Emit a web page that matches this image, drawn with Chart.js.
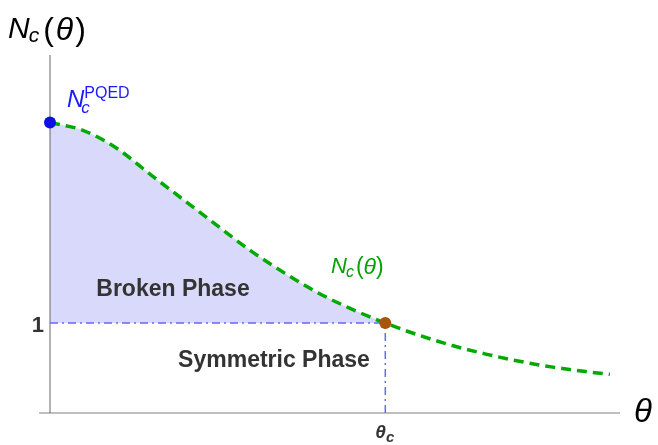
<!DOCTYPE html>
<html>
<head>
<meta charset="utf-8">
<script src="https://cdn.jsdelivr.net/npm/chart.js@4/dist/chart.umd.min.js"></script>
<style>
  html, body { margin: 0; padding: 0; background: #fff; }
  canvas { display: block; }
</style>
</head>
<body>
<canvas id="chart" width="658" height="445"></canvas>
<script>
  // curve N_c(theta) (theta in units of theta_c)
  const thetaVals = [0, 0.1, 0.2, 0.3, 0.4, 0.5, 0.6, 0.7, 0.8, 0.9, 1.0, 1.1, 1.2, 1.3, 1.4, 1.5, 1.6, 1.67];
  const ncVals = [3.23, 3.14, 2.94, 2.65, 2.365, 2.08, 1.80, 1.555, 1.335, 1.155, 1.0, 0.865, 0.75, 0.655, 0.575, 0.51, 0.46, 0.43];

  const thetaC = 1;
  const ncAtThetaC = 1;
  const ncPQED = 3.23;

  const yTickValues = [1];
  const yTickLabels = ['1'];

  const X_MAX = 1.70;
  const Y_MAX = 3.98;

  const FONT = '"Liberation Sans", Arial, Helvetica, sans-serif';

  const curvePoints = thetaVals.map((t, i) => ({ x: t, y: ncVals[i] }));
  const brokenPoints = curvePoints.filter(p => p.x <= thetaC);

  // draw a run of text pieces one after another, returns end x
  function drawRich(ctx, x, parts) {
    let cx = x;
    parts.forEach(p => {
      ctx.font = p.font;
      cx += p.gap || 0;
      ctx.fillText(p.text, cx, p.y);
      cx += ctx.measureText(p.text).width;
    });
    return cx;
  }

  const axesPlugin = {
    id: 'axes',
    afterDatasetDraw(chart, args) {
      if (args.index !== 0) return;
      const ctx = chart.ctx;
      const xs = chart.scales.x, ys = chart.scales.y;
      const x0 = xs.getPixelForValue(0);
      const y0 = ys.getPixelForValue(0);
      ctx.save();
      // x axis
      ctx.strokeStyle = '#aaaaaa';
      ctx.lineWidth = 1.5;
      ctx.beginPath();
      ctx.moveTo(x0 - 11, y0);
      ctx.lineTo(xs.getPixelForValue(X_MAX), y0);
      ctx.stroke();
      // y axis
      ctx.strokeStyle = '#666666';
      ctx.lineWidth = 1;
      ctx.beginPath();
      ctx.moveTo(x0, ys.getPixelForValue(Y_MAX));
      ctx.lineTo(x0, y0);
      ctx.stroke();
      ctx.restore();
    }
  };

  const labelPlugin = {
    id: 'labels',
    afterDraw(chart) {
      const ctx = chart.ctx;
      const xs = chart.scales.x, ys = chart.scales.y;
      ctx.save();
      ctx.textBaseline = 'alphabetic';
      ctx.textAlign = 'left';

      // y axis title N_c(theta)
      ctx.fillStyle = '#000';
      drawRich(ctx, 8, [
        { text: 'N', font: 'italic 30px ' + FONT, y: 38 },
        { text: 'c', font: 'italic 21px ' + FONT, y: 42, gap: -1 },
        { text: '(', font: '32px ' + FONT, y: 40, gap: 4 },
        { text: 'θ', font: 'italic 32px ' + FONT, y: 40, gap: 2 },
        { text: ')', font: '32px ' + FONT, y: 40, gap: 2 }
      ]);

      // x axis title theta
      drawRich(ctx, 634, [{ text: 'θ', font: 'italic 33px ' + FONT, y: 422 }]);

      // y tick labels
      ctx.fillStyle = '#333';
      ctx.textAlign = 'right';
      ctx.font = 'bold 22px ' + FONT;
      yTickValues.forEach((v, i) => {
        ctx.fillText(yTickLabels[i], xs.getPixelForValue(0) - 6, ys.getPixelForValue(v) + 9);
      });
      ctx.textAlign = 'left';

      // theta_c tick label
      const tcx = xs.getPixelForValue(thetaC);
      drawRich(ctx, tcx - 10, [
        { text: 'θ', font: 'bold italic 19px ' + FONT, y: 438 },
        { text: 'c', font: 'bold italic 15px ' + FONT, y: 442 }
      ]);

      // N_c^PQED label
      ctx.fillStyle = '#1a1aff';
      let cx = drawRich(ctx, 67, [{ text: 'N', font: 'italic 24px ' + FONT, y: 107 }]);
      drawRich(ctx, cx - 3, [{ text: 'c', font: 'italic 17px ' + FONT, y: 113 }]);
      drawRich(ctx, cx, [{ text: 'PQED', font: '16px ' + FONT, y: 98 }]);

      // curve label
      ctx.fillStyle = '#00a400';
      drawRich(ctx, 331, [
        { text: 'N', font: 'italic 22px ' + FONT, y: 273 },
        { text: 'c', font: 'italic 16px ' + FONT, y: 277, gap: -1 },
        { text: '(', font: '23px ' + FONT, y: 274, gap: 2 },
        { text: 'θ', font: 'italic 23px ' + FONT, y: 274 },
        { text: ')', font: '23px ' + FONT, y: 274 }
      ]);

      // phase labels
      ctx.fillStyle = '#333';
      ctx.textAlign = 'center';
      ctx.font = 'bold 23px ' + FONT;
      ctx.fillText('Broken Phase', 173, 296);
      ctx.fillText('Symmetric Phase', 274, 367);
      ctx.restore();
    }
  };

  const dashDot = [8, 4, 2, 4];
  const guideColor = 'rgba(95, 95, 255, 0.95)';

  new Chart(document.getElementById('chart'), {
    type: 'line',
    data: {
      datasets: [
        {
          label: 'broken',
          data: brokenPoints,
          borderWidth: 0,
          pointRadius: 0,
          backgroundColor: '#d9d9fb',
          fill: { value: ncAtThetaC },
          cubicInterpolationMode: 'monotone',
          order: 10
        },
        {
          label: 'h-guide',
          data: [{ x: 0, y: ncAtThetaC }, { x: thetaC, y: ncAtThetaC }],
          borderColor: guideColor,
          borderWidth: 1.5,
          borderDash: dashDot,
          pointRadius: 0,
          fill: false,
          order: 6
        },
        {
          label: 'v-guide',
          data: [{ x: thetaC, y: 0 }, { x: thetaC, y: ncAtThetaC }],
          borderColor: guideColor,
          borderWidth: 1.5,
          borderDash: dashDot,
          pointRadius: 0,
          fill: false,
          order: 5
        },
        {
          label: 'Nc',
          data: curvePoints,
          borderColor: '#00aa00',
          borderWidth: 3.5,
          borderDash: [10, 6],
          pointRadius: 0,
          fill: false,
          clip: false,
          cubicInterpolationMode: 'monotone',
          order: 2
        },
        {
          label: 'pqed',
          data: [{ x: 0, y: ncPQED }],
          showLine: false,
          pointRadius: 6,
          pointBackgroundColor: '#0f0fe6',
          pointBorderWidth: 0,
          clip: false,
          order: 1
        },
        {
          label: 'thetac',
          data: [{ x: thetaC, y: ncAtThetaC }],
          showLine: false,
          pointRadius: 6,
          pointBackgroundColor: '#a9540c',
          pointBorderWidth: 0,
          clip: false,
          order: 0
        }
      ]
    },
    options: {
      responsive: false,
      animation: false,
      layout: { padding: { left: 50, right: 38, top: 55, bottom: 32 } },
      plugins: {
        legend: { display: false },
        tooltip: { enabled: false }
      },
      scales: {
        x: { type: 'linear', min: 0, max: X_MAX, display: false },
        y: { type: 'linear', min: 0, max: Y_MAX, display: false }
      }
    },
    plugins: [axesPlugin, labelPlugin]
  });
</script>
</body>
</html>
